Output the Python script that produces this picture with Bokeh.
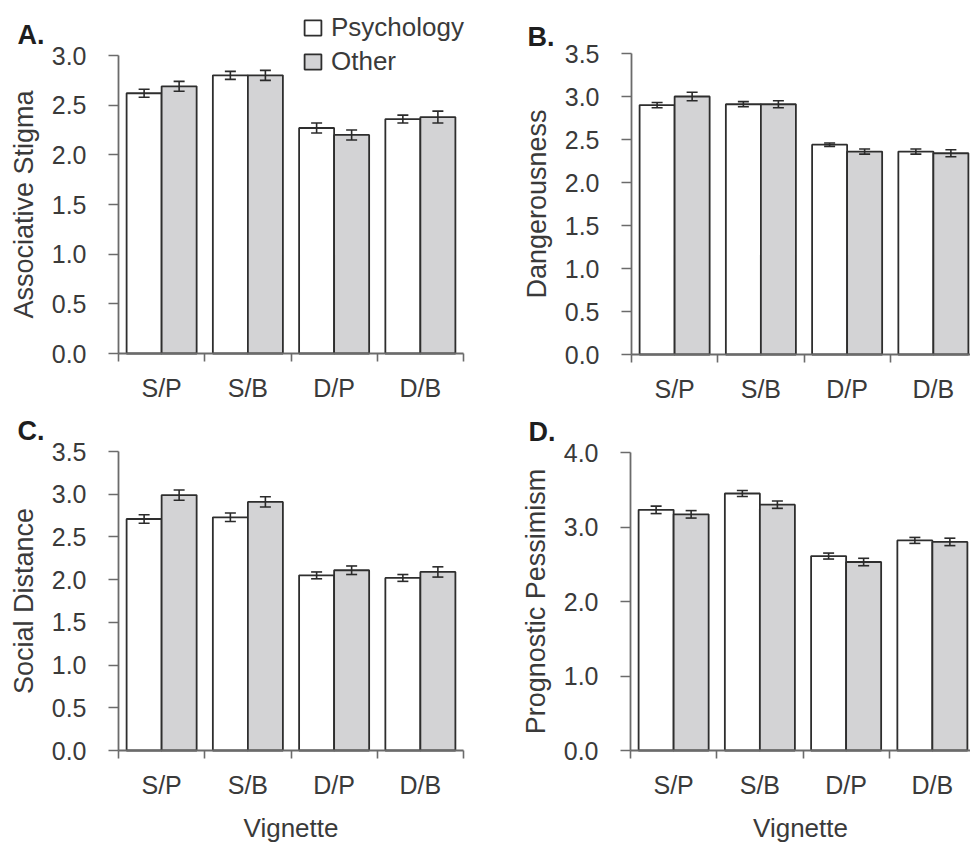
import numpy as np
from bokeh.plotting import figure
from bokeh.models import (Range1d, FixedTicker, NumeralTickFormatter, ColumnDataSource,
                          Whisker, TeeHead, Legend, LegendItem, Label)
from bokeh.layouts import column, row
from bokeh.embed import file_html
from bokeh.resources import INLINE

# ---------------- data ----------------
categories = ["S/P", "S/B", "D/P", "D/B"]
groups = ["Psychology", "Other"]

stigma_psych = [2.62, 2.80, 2.27, 2.36]
stigma_other = [2.69, 2.80, 2.20, 2.38]
stigma_psych_err = [0.04, 0.04, 0.05, 0.04]
stigma_other_err = [0.05, 0.05, 0.05, 0.06]
stigma_ticks = [0.0, 0.5, 1.0, 1.5, 2.0, 2.5, 3.0]

danger_psych = [2.90, 2.91, 2.44, 2.36]
danger_other = [3.00, 2.91, 2.36, 2.34]
danger_psych_err = [0.03, 0.03, 0.02, 0.03]
danger_other_err = [0.05, 0.04, 0.03, 0.04]
danger_ticks = [0.0, 0.5, 1.0, 1.5, 2.0, 2.5, 3.0, 3.5]

distance_psych = [2.71, 2.73, 2.05, 2.02]
distance_other = [2.99, 2.91, 2.11, 2.09]
distance_psych_err = [0.05, 0.05, 0.04, 0.04]
distance_other_err = [0.06, 0.06, 0.05, 0.06]
distance_ticks = [0.0, 0.5, 1.0, 1.5, 2.0, 2.5, 3.0, 3.5]

pessimism_psych = [3.23, 3.45, 2.61, 2.82]
pessimism_other = [3.17, 3.30, 2.53, 2.80]
pessimism_psych_err = [0.05, 0.04, 0.04, 0.04]
pessimism_other_err = [0.05, 0.05, 0.05, 0.05]
pessimism_ticks = [0.0, 1.0, 2.0, 3.0, 4.0]

x_title = "Vignette"

# ---------------- style ----------------
FONT = "Liberation Sans"
TEXT = "#3a3a3a"
AXIS = "#6b6b6b"
BAR_LINE = "#2e2e2e"
GREY = "#d3d3d5"
BAR_W = 0.406
TICK_FS = "25px"
TITLE_FS = "27px"
PX_PER_CAT = 86.25


def panel(letter, ylabel, psych, other, psych_err, other_err, y_ticks,
          canvas, origin, axis_h, letter_xy, xlabel=None, legend_xy=None):
    """canvas = (left, top, right, bottom) in page px; origin = page px of (0, 0);
    axis_h = pixel length of the y axis; letter_xy = page px of letter (left, baseline)."""
    cl, ct, cr, cb = canvas
    ox, oy = origin
    sx = PX_PER_CAT
    sy = axis_h / (y_ticks[-1] - y_ticks[0])
    W, H = cr - cl, cb - ct
    x0, x1 = (cl - ox) / sx, (cr - ox) / sx
    y0, y1 = (oy - cb) / sy, (oy - ct) / sy

    p = figure(frame_width=W, frame_height=H,
               min_border_left=0, min_border_right=0, min_border_top=0, min_border_bottom=0,
               x_range=Range1d(x0, x1), y_range=Range1d(y0, y1),
               output_backend="svg", toolbar_location=None, tools="")
    p.outline_line_color = None
    p.grid.visible = False
    p.background_fill_color = "white"
    p.border_fill_color = "white"

    n = len(categories)
    centers = np.arange(n) + 0.5
    xs = [centers - BAR_W / 2, centers + BAR_W / 2]
    vals = [psych, other]
    errs = [psych_err, other_err]
    fills = ["white", GREY]
    renderers = []
    for k in range(2):
        v = np.array(vals[k], dtype=float)
        e = np.array(errs[k], dtype=float)
        src = ColumnDataSource(dict(x=xs[k], top=v, upper=v + e, lower=v - e))
        r = p.vbar(x="x", top="top", bottom=0, width=BAR_W, source=src,
                   fill_color=fills[k], line_color=BAR_LINE, line_width=1.8)
        renderers.append(r)
        w = Whisker(source=src, base="x", upper="upper", lower="lower",
                    dimension="height", line_color="#2a2a2a", line_width=1.6,
                    level="annotation",
                    upper_head=TeeHead(size=11, line_color="#2a2a2a", line_width=1.6),
                    lower_head=TeeHead(size=11, line_color="#2a2a2a", line_width=1.6))
        p.add_layout(w)

    # x axis: labels centred on categories, ticks on category boundaries
    xa = p.xaxis[0]
    xa.fixed_location = 0
    xa.bounds = (0, min(n, x1))
    xa.ticker = FixedTicker(ticks=list(centers), minor_ticks=list(range(n + 1)))
    xa.major_label_overrides = {float(c): categories[i] for i, c in enumerate(centers)}
    xa.major_tick_line_color = None
    xa.major_tick_out = 0
    xa.major_tick_in = 0
    xa.minor_tick_out = 8
    xa.minor_tick_in = 0
    xa.minor_tick_line_color = AXIS
    xa.minor_tick_line_width = 1.6
    xa.axis_line_color = AXIS
    xa.axis_line_width = 1.8
    xa.major_label_text_font = FONT
    xa.major_label_text_font_size = TICK_FS
    xa.major_label_text_color = TEXT
    xa.major_label_standoff = 12
    if xlabel:
        xa.axis_label = xlabel
        xa.axis_label_text_font = FONT
        xa.axis_label_text_font_size = "26px"
        xa.axis_label_text_font_style = "normal"
        xa.axis_label_text_color = TEXT
        xa.axis_label_standoff = 11

    ya = p.yaxis[0]
    ya.fixed_location = 0
    ya.bounds = (y_ticks[0], y_ticks[-1])
    ya.ticker = FixedTicker(ticks=y_ticks, minor_ticks=[])
    ya.formatter = NumeralTickFormatter(format="0.0")
    ya.major_tick_out = 10
    ya.major_tick_in = 0
    ya.major_tick_line_color = AXIS
    ya.major_tick_line_width = 1.6
    ya.minor_tick_line_color = None
    ya.axis_line_color = AXIS
    ya.axis_line_width = 1.8
    ya.major_label_text_font = FONT
    ya.major_label_text_font_size = TICK_FS
    ya.major_label_text_color = TEXT
    ya.major_label_standoff = 22
    ya.axis_label = ylabel
    ya.axis_label_text_font = FONT
    ya.axis_label_text_font_size = TITLE_FS
    ya.axis_label_text_font_style = "normal"
    ya.axis_label_text_color = TEXT
    ya.axis_label_standoff = 10

    lx, lb = letter_xy
    p.add_layout(Label(x=(lx - ox) / sx, y=(oy - lb) / sy, text=letter,
                       text_font=FONT, text_font_style="bold", text_font_size="27px",
                       text_color="#1e1e1e", text_align="left",
                       text_baseline="alphabetic"))

    if legend_xy is not None:
        gx, gb = legend_xy  # page px: legend left, legend bottom
        lg = Legend(items=[LegendItem(label=groups[i], renderers=[renderers[i]]) for i in range(2)],
                    location=(gx - cl, cb - gb), orientation="vertical",
                    border_line_color=None, background_fill_alpha=0,
                    padding=0, margin=0, spacing=3,
                    glyph_width=21, glyph_height=19, label_standoff=8,
                    label_text_font=FONT, label_text_font_size="26px",
                    label_text_color=TEXT, label_height=30)
        p.add_layout(lg, "center")
    return p


# page layout: the canvases tile the 970 x 845 window (rows split at y = 408)
SPLIT = 408
pA = panel("A.", "Associative Stigma", stigma_psych, stigma_other,
           stigma_psych_err, stigma_other_err, stigma_ticks,
           (0, 0, 490, SPLIT), (118, 353), 298, (17, 34), legend_xy=(302, 77))
pB = panel("B.", "Dangerousness", danger_psych, danger_other,
           danger_psych_err, danger_other_err, danger_ticks,
           (490, 0, 970, SPLIT), (631, 354), 301, (527, 36))
pC = panel("C.", "Social Distance", distance_psych, distance_other,
           distance_psych_err, distance_other_err, distance_ticks,
           (0, SPLIT, 490, 845), (118, 750), 299, (17, 430), xlabel=x_title)
pD = panel("D.", "Prognostic Pessimism", pessimism_psych, pessimism_other,
           pessimism_psych_err, pessimism_other_err, pessimism_ticks,
           (490, SPLIT, 970, 845), (630, 750), 298, (528, 431), xlabel=x_title)

layout = column(row(pA, pB, spacing=0), row(pC, pD, spacing=0), spacing=0)

open("out.html", "w").write(file_html(layout, INLINE))
